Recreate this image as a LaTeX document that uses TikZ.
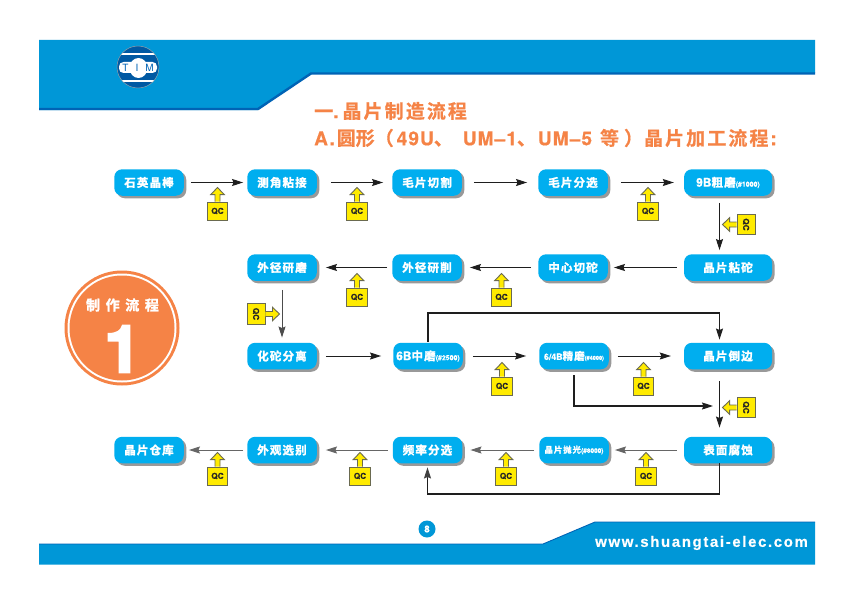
\documentclass[tikz,border=0pt]{standalone}
\usepackage{fontspec}
\setmainfont{TeX Gyre Heros}
\newfontfamily\cjkbox[LetterSpace=10,FakeBold=1.8]{Noto Sans CJK SC Bold}
\newfontfamily\cjktitle[LetterSpace=11,FakeBold=0.6]{Noto Sans CJK SC Bold}
\newfontfamily\cjktight[FakeBold=0.6]{Noto Sans CJK SC Bold}
\newfontfamily\latbox[FakeBold=0.6]{TeX Gyre Heros Bold}
\newfontfamily\lattitle[LetterSpace=6,FakeBold=0.6]{TeX Gyre Heros Bold}
\newfontfamily\latweb[LetterSpace=10.8,FakeBold=0.5]{Liberation Sans Bold}
\newfontfamily\latheavy[FakeBold=4]{TeX Gyre Heros Bold}
\usetikzlibrary{arrows.meta,shadows,calc}
\definecolor{band}{HTML}{0097D7}
\definecolor{bandedge}{HTML}{0063B5}
\definecolor{cbox}{HTML}{00AEEF}
\definecolor{orange}{HTML}{F58346}
\definecolor{qcy}{HTML}{FFEB00}
\definecolor{qce}{HTML}{6A6A50}
\definecolor{linec}{HTML}{1E1E1E}
\tikzset{
 x=1pt,y=-1pt,
 tipa/.tip={Stealth[length=11pt,width=7pt,inset=1.5pt]},
 stepbox/.style={rectangle,rounded corners=8pt,fill=cbox,text=white,inner sep=0pt,minimum height=26.5pt,minimum width=69.5pt,
   font=\cjkbox\fontsize{11.5}{12}\selectfont,drop shadow={shadow xshift=2.5pt,shadow yshift=-2.5pt,fill=black!40,opacity=1}},
 widebox/.style={stepbox,minimum width=88pt},
 flow/.style={draw=linec,line width=0.9pt,-tipa},
 flowgray/.style={flow,draw=black!60},
 heavy/.style={draw=linec,line width=1.6pt},
 qcbox/.style={rectangle,draw=qce,fill=qcy,line width=0.9pt,minimum width=20.5pt,minimum height=18pt,inner sep=0pt,text=black!85,font=\latbox\fontsize{8.2}{9}\selectfont},
 qcside/.style={qcbox,minimum width=18pt,minimum height=20.5pt},
 qcarrow/.style={draw=qce,fill=qcy,line width=0.9pt,line join=miter},
}
\newcommand\sm[1]{{\latbox\fontsize{7}{8}\selectfont #1}}
\newcommand\la[1]{{\latbox #1}}
% up-pointing QC flag: name, centre x, box top y
\newcommand\qcup[3]{%
 \node[qcbox] (#1) at (#2,#3+9) {QC};
 \draw[qcarrow] ([xshift=-2.5pt]#1.north) -- ++(0,-7) -- ++(-4.3,0) -- ++(6.8,-7) -- ++(6.8,7) -- ++(-4.3,0) -- ++(0,7);
}
% left-pointing QC flag: name, box left x, centre y
\newcommand\qcleft[3]{%
 \node[qcside] (#1) at (#2+9,#3) {\rotatebox{-90}{QC}};
 \draw[qcarrow] ([yshift=2.5pt]#1.west) -- ++(-7,0) -- ++(0,-4.3) -- ++(-7,6.8) -- ++(7,6.8) -- ++(0,-4.3) -- ++(7,0);
}
% right-pointing QC flag
\newcommand\qcright[3]{%
 \node[qcside] (#1) at (#2+9,#3) {\rotatebox{-90}{QC}};
 \draw[qcarrow] ([yshift=2.5pt]#1.east) -- ++(7,0) -- ++(0,-4.3) -- ++(7,6.8) -- ++(-7,6.8) -- ++(0,-4.3) -- ++(-7,0);
}
\begin{document}
\begin{tikzpicture}
\useasboundingbox (0,0) rectangle (854,602);
\fill[white] (0,0) rectangle (854,602);
% top band
\fill[band] (39,40) -- (815,40) -- (815,73) -- (310,73) -- (258,110) -- (39,110) -- cycle;
\draw[bandedge,line width=2.4pt] (815,73.5) -- (311,73.5) -- (258,109) -- (39,109);
% bottom band
\fill[band] (39,544) -- (543,544) -- (595,522) -- (815,522) -- (815,564.5) -- (39,564.5) -- cycle;
\draw[bandedge,line width=0.9pt] (39,544) -- (543,544) -- (595,522) -- (815,522);
% logo
\begin{scope}
\clip (138,67) circle (21);
\fill[bandedge!90!black] (138,67) circle (21);
\fill[white] (115,53.5) rectangle (161,54.7);
\fill[white] (115,80.5) rectangle (161,81.7);
\fill[white,rounded corners=4.5pt] (119,62) rectangle (157,73);
\fill[white] (138.5,68) ellipse (9 and 10);
\end{scope}
\draw[black!35,line width=0.4pt] (138,67) circle (21);
\node[inner sep=0pt,text=bandedge,font=\fontsize{10}{11}\selectfont] (logot) at (138,68) {T\hspace{7pt}I\hspace{7pt}M};
% titles
\node[anchor=west,inner sep=0pt,text=orange] (t1) at (314,111) {\fontsize{19}{20}\selectfont\cjktitle 一\latbox.\hspace{4pt}\cjktitle 晶片制造流程};
\node[anchor=west,inner sep=0pt,text=orange] (t2) at (314,138) {\fontsize{19}{20}\selectfont\lattitle A.\hspace{2pt}\cjktight 圆形（\hspace{3pt}\lattitle 49U\cjktight 、\hspace{10pt}\lattitle UM–1\cjktight 、\hspace{2pt}\lattitle UM–5\hspace{8pt}\cjktight 等\hspace{5pt}）\hspace{1pt}\cjktitle 晶片加工流程\lattitle\hspace{2pt}:};
% badge
\fill[orange] (122,328) circle (57.5);
\fill[white] (122,328) circle (54.5);
\fill[orange] (122,328) circle (52.5);
\node[inner sep=0pt,text=white] (badge) at (122.5,305) {\cjkbox\fontsize{14}{15}\addfontfeatures{LetterSpace=40}\selectfont 制作流程};
\node[inner sep=0pt,text=white] (one) at (122.5,349) {\latheavy\fontsize{65}{70}\selectfont 1};
% page number
\node[circle,fill=band,inner sep=0pt,minimum size=17pt,text=white,font=\latbox\fontsize{9.5}{10}\selectfont] (page) at (427,529) {8};
\node[anchor=west,inner sep=0pt,text=white] (web) at (595,543) {\latweb\fontsize{15}{16}\selectfont www.shuangtai-elec.com};
% row 1
\node[stepbox] (a1) at (149,182.5) {石英晶棒};
\node[stepbox] (a2) at (282,182.5) {测角粘接};
\node[stepbox] (a3) at (427,182.5) {毛片切割};
\node[stepbox] (a4) at (573,182.5) {毛片分选};
\node[widebox] (a5) at (728,182.5) {\la{\fontsize{12}{13}\selectfont 9B}粗磨\sm{(\#1000)}};
% row 2
\node[stepbox] (b1) at (282,267.5) {外径研磨};
\node[stepbox] (b2) at (427,267.5) {外径研削};
\node[stepbox] (b3) at (573,267.5) {中心切砣};
\node[widebox] (b4) at (728,267.5) {晶片粘砣};
% row 3
\node[stepbox] (c1) at (282,356) {化砣分离};
\node[stepbox] (c2) at (428,356) {\la{\fontsize{12}{13}\selectfont 6B}中磨\sm{(\#2500)}};
\node[stepbox] (c3) at (574,356) {\la{\fontsize{8.8}{10}\selectfont 6/4B}{\fontsize{10.5}{11}\selectfont 精磨}\sm{\fontsize{5.6}{6}\selectfont(\#4000)}};
\node[widebox] (c4) at (728,356) {晶片倒边};
% row 4
\node[stepbox] (d1) at (149,450) {晶片仓库};
\node[stepbox] (d2) at (282,450) {外观选别};
\node[stepbox] (d3) at (427.5,450) {频率分选};
\node[stepbox] (d4) at (574,450) {{\fontsize{8.5}{10}\selectfont 晶片抛光}\sm{\fontsize{6.5}{7}\selectfont(\#8000)}};
\node[widebox] (d5) at (728,450) {表面腐蚀};
% row 1 connectors
\draw[flow,shorten <=7pt,shorten >=4pt] (a1) -- (a2);
\draw[flow,shorten <=14pt,shorten >=9pt] (a2) -- (a3);
\draw[flow,shorten <=12pt,shorten >=11pt] (a3) -- (a4);
\draw[flow,shorten <=13pt,shorten >=10pt] (a4) -- (a5);
\draw[flow,shorten <=7pt,shorten >=4pt] ([xshift=-8.5pt]a5.south) -- ([xshift=-8.5pt]b4.north);
% row 2 connectors
\draw[flow,shorten <=7pt,shorten >=6pt] (b4) -- (b3);
\draw[flow,shorten <=7pt,shorten >=8pt] (b3) -- (b2);
\draw[flow,shorten <=5pt,shorten >=9pt] (b2) -- (b1);
\draw[flow,draw=black!70,shorten <=9pt,shorten >=5pt] (b1) -- (c1);
% row 3 connectors
\draw[flow,shorten <=9pt,shorten >=12pt] (c1) -- (c2);
\draw[flow,shorten <=10pt,shorten >=13pt] (c2) -- (c3);
\draw[flow,shorten <=9pt,shorten >=13pt] (c3) -- (c4);
\draw[heavy,shorten <=1pt] (c2.north) -- ++(0,-29.5) coordinate (topl) -| ([yshift=14pt,xshift=-8.5pt]c4.north) coordinate (topr);
\draw[flow,shorten >=3pt] (topr) -- ([xshift=-8.5pt]c4.north);
\coordinate (side) at (713,406);
\draw[draw=linec,line width=1.1pt,shorten <=6pt,-tipa] (c3.south) |- (side);
\draw[flow,shorten <=12pt,shorten >=9pt] ([xshift=-8.5pt]c4.south) -- ([xshift=-8.5pt]d5.north);
% row 4 connectors
\draw[flowgray,shorten <=7pt,shorten >=6pt] (d5) -- (d4);
\draw[flowgray,shorten <=5pt,shorten >=8pt] (d4) -- (d3);
\draw[flowgray,shorten <=5pt,shorten >=9pt] (d3) -- (d2);
\draw[flowgray,shorten <=4pt,shorten >=5pt] (d2) -- (d1);
\draw[heavy] ([xshift=-8.5pt]d5.south) -- ++(0,30.5) coordinate (botr) -| ([yshift=-14pt]d3.south) coordinate (botl);
\draw[flow,draw=black!75,shorten >=4pt] (botl) -- (d3.south);
% QC flags
\qcup{q1}{217.5}{202}
\qcup{q2}{357}{202}
\qcup{q3}{648}{202}
\qcup{q4}{357}{288}
\qcup{q5}{501.5}{288}
\qcup{q6}{502}{377}
\qcup{q7}{643.5}{377}
\qcup{q8}{217.5}{467}
\qcup{q9}{360}{467}
\qcup{q10}{506}{467}
\qcup{q11}{646}{467}
\qcleft{q12}{737}{224.5}
\qcleft{q13}{737}{407.5}
\qcright{q14}{247}{314}
\end{tikzpicture}
\end{document}
